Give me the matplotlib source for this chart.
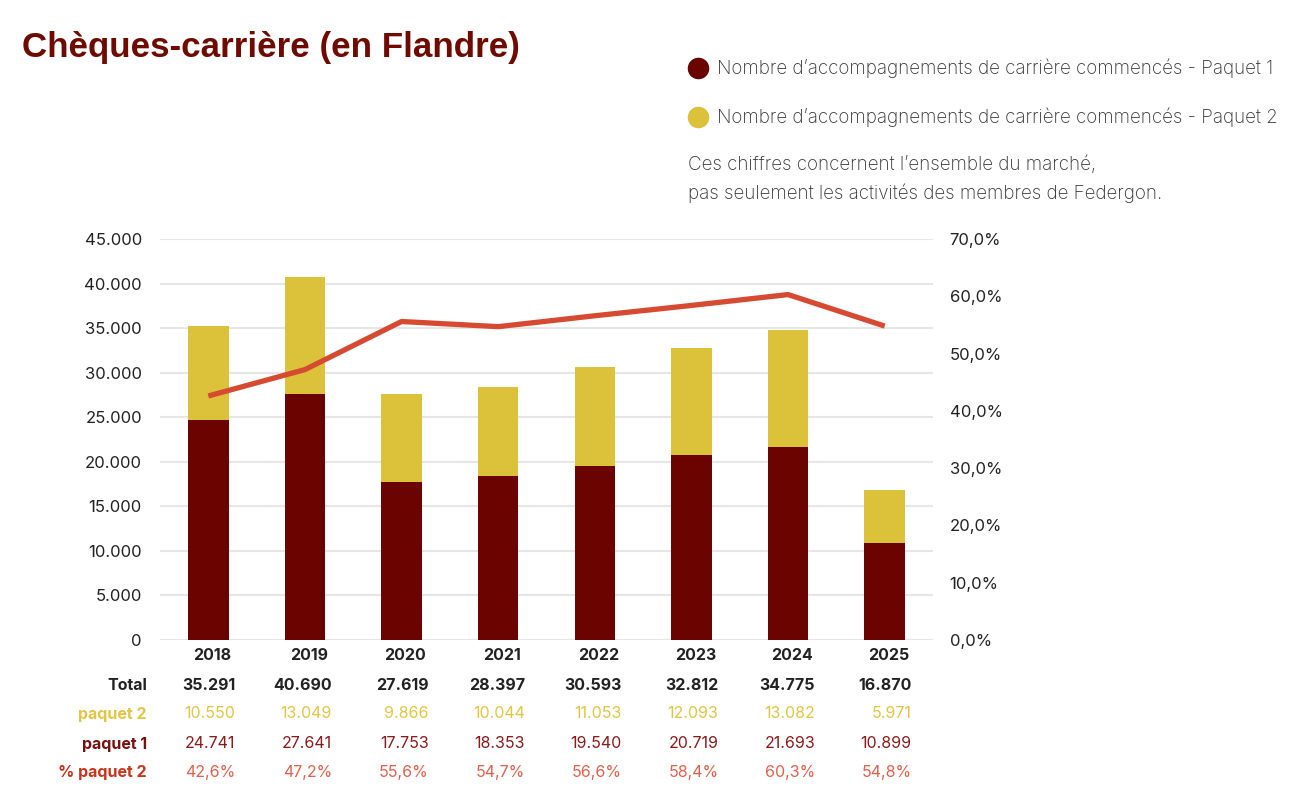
import matplotlib
matplotlib.use("Agg")
import matplotlib.pyplot as plt
import matplotlib.transforms as mtransforms
from matplotlib.lines import Line2D

years = ["2018", "2019", "2020", "2021", "2022", "2023", "2024", "2025"]
paquet1 = [24741, 27641, 17753, 18353, 19540, 20719, 21693, 10899]
paquet2 = [10550, 13049, 9866, 10044, 11053, 12093, 13082, 5971]
total = [35291, 40690, 27619, 28397, 30593, 32812, 34775, 16870]
pct_paquet2 = [42.6, 47.2, 55.6, 54.7, 56.6, 58.4, 60.3, 54.8]
left_ticks = [0, 5000, 10000, 15000, 20000, 25000, 30000, 35000, 40000, 45000]
right_ticks = [0, 10, 20, 30, 40, 50, 60, 70]

C_P1 = "#6b0400"
C_P2 = "#dcc23b"
C_LINE = "#d64a32"
C_TITLE = "#6e0a00"
C_GRID = "#e6e6e6"
C_TEXT = "#222222"

W, H = 1300, 809
fig = plt.figure(figsize=(W / 100, H / 100), dpi=100)
FONT = ["Inter", "DejaVu Sans"]
plt.rcParams["font.family"] = FONT


def fx(px):
    return px / W


def fy(py):
    return 1 - py / H


ax = fig.add_axes([fx(160), fy(640), fx(933) - fx(160), fy(239) - fy(640)])
x = list(range(len(years)))
ax.bar(x, paquet1, width=0.42, color=C_P1, zorder=3)
ax.bar(x, paquet2, bottom=paquet1, width=0.42, color=C_P2, zorder=3)
ax.set_xlim(-0.5, len(years) - 0.5)
ax.set_ylim(0, 45000)
ax.set_yticks(left_ticks)
ax.set_yticklabels([f"{v:,}".replace(",", ".") for v in left_ticks])
ax.grid(axis="y", color=C_GRID, linewidth=1.5, zorder=0)
ax.set_xticks([])
for s in ax.spines.values():
    s.set_visible(False)
ax.tick_params(axis="y", length=0, pad=13, labelsize=12, labelcolor=C_TEXT)

ax2 = ax.twinx()
ax2.plot(x, pct_paquet2, color=C_LINE, linewidth=3.8, zorder=4, solid_capstyle="butt")
ax2.set_ylim(0, 70)
ax2.set_yticks(right_ticks)
ax2.set_yticklabels([f"{v:.1f}%".replace(".", ",") for v in right_ticks])
for s in ax2.spines.values():
    s.set_visible(False)
ax2.tick_params(axis="y", length=0, pad=12, labelsize=12, labelcolor=C_TEXT)

# title
fig.text(fx(22), fy(48), "Chèques-carrière (en Flandre)", fontsize=25.2, fontweight="bold",
         color=C_TITLE, va="center", ha="left", family=["Liberation Sans", "DejaVu Sans"])

# legend
for py, col, lab in [(68, C_P1, "Nombre d’accompagnements de carrière commencés - Paquet 1"),
                     (117, C_P2, "Nombre d’accompagnements de carrière commencés - Paquet 2")]:
    fig.add_artist(Line2D([fx(698)], [fy(py)], transform=fig.transFigure, marker="o",
                          markersize=14.5, color=col, linestyle="none"))
    fig.text(fx(717), fy(py), lab, fontsize=13.5, color="#333333", va="center", ha="left",
             fontweight="light")
fig.text(fx(688), fy(165), "Ces chiffres concernent l’ensemble du marché,", fontsize=13.5,
         color="#333333", va="center", ha="left", fontweight="light")
fig.text(fx(688), fy(193), "pas seulement les activités des membres de Federgon.", fontsize=13.5,
         color="#333333", va="center", ha="left", fontweight="light")

# table under chart
trans = mtransforms.blended_transform_factory(ax.transData, fig.transFigure)
fmt = lambda v: f"{v:,}".replace(",", ".")

for i, yr in enumerate(years):
    ax.text(i + 0.04, fy(655), yr, transform=trans, fontsize=11.5, fontweight="bold",
            color=C_TEXT, ha="center", va="center")

rows = [
    (685, "Total", [fmt(v) for v in total], C_TEXT, "bold", C_TEXT),
    (714, "paquet 2", [fmt(v) for v in paquet2], "#e3c545", "normal", "#e3c545"),
    (744, "paquet 1", [fmt(v) for v in paquet1], "#8a1a1a", "normal", "#7a0f0f"),
    (773, "% paquet 2", [f"{v:.1f}%".replace(".", ",") for v in pct_paquet2], "#e0604c",
     "normal", "#c8341c"),
]
for py, lab, vals, col, wt, labcol in rows:
    fig.text(fx(147), fy(py), lab, fontsize=11.5, fontweight="bold", color=labcol,
             ha="right", va="center")
    for i, v in enumerate(vals):
        ax.text(i + 0.28, fy(py), v, transform=trans, fontsize=11.5, fontweight=wt,
                color=col, ha="right", va="center")

fig.savefig("out.png", dpi=100)
